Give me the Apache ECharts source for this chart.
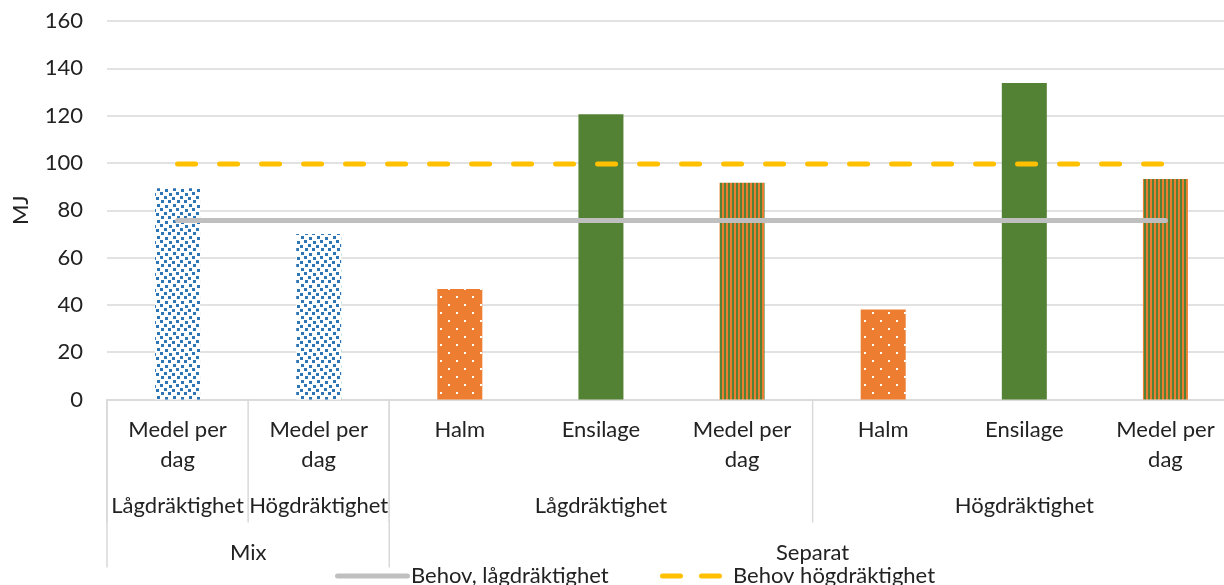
<!DOCTYPE html>
<html>
<head>
<meta charset="utf-8">
<script src="https://cdn.jsdelivr.net/npm/echarts@6/dist/echarts.min.js"></script>
<style>
  html, body { margin: 0; padding: 0; background: #fff; overflow: hidden; }
  /* the plot runs a little past the right edge of the page */
  #chart { width: 1236px; height: 585px; }
</style>
</head>
<body>
<div id="chart"></div>
<script>
// Feed energy per day (MJ), mixed ration vs. separate feeding
const categories = ['Medel per\ndag', 'Medel per\ndag', 'Halm', 'Ensilage', 'Medel per\ndag', 'Halm', 'Ensilage', 'Medel per\ndag'];
const stage   = ['Lågdräktighet', 'Högdräktighet', 'Lågdräktighet', 'Lågdräktighet', 'Lågdräktighet', 'Högdräktighet', 'Högdräktighet', 'Högdräktighet'];
const feeding = ['Mix', 'Mix', 'Separat', 'Separat', 'Separat', 'Separat', 'Separat', 'Separat'];
const energy  = [89.3, 70.0, 46.7, 120.6, 91.6, 38.0, 133.8, 93.2];
const needLow  = [75.7, 75.7, 75.7, 75.7, 75.7, 75.7, 75.7, 75.7];
const needHigh = [99.6, 99.6, 99.6, 99.6, 99.6, 99.6, 99.6, 99.6];
const yTicks = { min: 0, max: 160, step: 20 };

const FONT = 'Lato, "Noto Sans", sans-serif';
const FS = 22;
const TEXT = '#222';
const RULE = '#d9d9d9';

// --- fill patterns -------------------------------------------------------
function tile(w, h, paint) {
  const c = document.createElement('canvas');
  c.width = w; c.height = h;
  paint(c.getContext('2d'));
  return { image: c, repeat: 'repeat' };
}
const confetti = tile(16, 16, g => {
  g.fillStyle = '#fff'; g.fillRect(0, 0, 16, 16);
  g.fillStyle = '#2e75b6';
  [[0,0],[9,1],[4,4],[12,5],[1,8],[8,8],[5,13],[13,12]].forEach(([x, y]) => g.fillRect(x, y, 3, 3));
});
const dotted = tile(16, 16, g => {
  g.fillStyle = '#ed7d31'; g.fillRect(0, 0, 16, 16);
  g.fillStyle = '#fff';
  g.fillRect(0, 0, 2, 2); g.fillRect(8, 8, 2, 2);
});
const striped = tile(4, 4, g => {
  g.fillStyle = '#ed7d31'; g.fillRect(0, 0, 4, 4);
  g.fillStyle = '#548235'; g.fillRect(0, 0, 2, 4);
});
function fillFor(i) {
  if (feeding[i] === 'Mix') return confetti;
  if (categories[i] === 'Halm') return dotted;
  if (categories[i] === 'Ensilage') return '#548235';
  return striped;
}

// --- grouped axis spans (consecutive categories sharing a key) -----------
function spans(keyOf, labelOf, level) {
  const out = [], labels = [];
  let start = 0;
  for (let i = 1; i <= categories.length; i++) {
    if (i === categories.length || keyOf(i) !== keyOf(start)) {
      out.push([start, i - 1, level]);
      labels.push(labelOf(start));
      start = i;
    }
  }
  return { out, labels };
}
const lvl2 = spans(i => feeding[i] + '|' + stage[i], i => stage[i], 2);
const lvl3 = spans(i => feeding[i], i => feeding[i], 3);
const spanData = lvl2.out.concat(lvl3.out);
const spanLabels = lvl2.labels.concat(lvl3.labels);

function renderSpan(params, api) {
  const s = api.value(0), e = api.value(1), lvl = api.value(2);
  const bw = api.size([1, 0])[0];
  const p0 = api.coord([s, 0]);
  const p1 = api.coord([e, 0]);
  const left = p0[0] - bw / 2, right = p1[0] + bw / 2;
  const y0 = p0[1];
  const textY = lvl === 2 ? y0 + 106 : y0 + 153;
  const lineEnd = lvl === 2 ? y0 + 123 : y0 + 168;
  return {
    type: 'group',
    children: [
      { type: 'line', shape: { x1: left, y1: y0, x2: left, y2: lineEnd },
        style: { stroke: RULE, lineWidth: 1.5 } },
      { type: 'text', x: (left + right) / 2, y: textY,
        style: { text: spanLabels[params.dataIndex], align: 'center', verticalAlign: 'middle',
                 fontSize: FS, fontFamily: FONT, fill: TEXT } }
    ]
  };
}

const legendText = { fontSize: FS, fontFamily: FONT, color: TEXT };
const chart = echarts.init(document.getElementById('chart'), null, { renderer: 'canvas' });
chart.setOption({
  animation: false,
  grid: { left: 107, right: 0, top: 21, bottom: 185.5, containLabel: false },
  legend: [
    { data: ['Behov, lågdräktighet'], left: 330, top: 560, itemWidth: 75, itemHeight: 5,
      icon: 'path://M2.5,0H72.5A2.5,2.5,0,0,1,72.5,5H2.5A2.5,2.5,0,0,1,2.5,0Z',
      itemStyle: { borderWidth: 0 }, textStyle: Object.assign({ padding: [0, 0, 0, -4] }, legendText) },
    { data: ['Behov högdräktighet'], left: 655, top: 560, itemWidth: 62, itemHeight: 5,
      icon: 'path://M2.5,0H20.5A2.5,2.5,0,0,1,20.5,5H2.5A2.5,2.5,0,0,1,2.5,0Z M41.5,0H59.5A2.5,2.5,0,0,1,59.5,5H41.5A2.5,2.5,0,0,1,41.5,0Z',
      itemStyle: { borderWidth: 0 }, textStyle: Object.assign({ padding: [0, 0, 0, 6] }, legendText) }
  ],
  xAxis: {
    type: 'category',
    data: categories,
    axisLine: { lineStyle: { color: RULE, width: 1.5 } },
    axisTick: { show: false },
    axisLabel: { interval: 0, margin: 15, fontSize: FS, lineHeight: 30, fontFamily: FONT, color: TEXT }
  },
  yAxis: {
    type: 'value',
    min: yTicks.min, max: yTicks.max, interval: yTicks.step,
    name: 'MJ', nameLocation: 'middle', nameGap: 75, nameRotate: 90,
    nameTextStyle: { fontSize: FS, fontFamily: FONT, color: TEXT },
    axisLine: { show: false },
    axisTick: { show: false },
    axisLabel: { margin: 24, fontSize: FS, fontFamily: FONT, color: TEXT },
    splitLine: { lineStyle: { color: RULE, width: 1.5 } }
  },
  series: [
    {
      type: 'bar',
      name: 'Energi',
      barWidth: 45,
      data: energy.map((v, i) => ({ value: v, itemStyle: { color: fillFor(i) } })),
      z: 2
    },
    {
      type: 'line',
      name: 'Behov, lågdräktighet',
      data: needLow,
      symbol: 'none',
      lineStyle: { color: '#bfbfbf', width: 5, cap: 'round' },
      itemStyle: { color: '#bfbfbf' },
      z: 3
    },
    {
      type: 'line',
      name: 'Behov högdräktighet',
      data: needHigh,
      symbol: 'none',
      lineStyle: { color: '#ffc000', width: 5, type: [18, 24], cap: 'round' },
      itemStyle: { color: '#ffc000' },
      z: 3
    },
    {
      type: 'custom',
      name: 'grupper',
      renderItem: renderSpan,
      data: spanData,
      encode: { x: 0, y: 2 },
      silent: true,
      clip: false,
      z: 1
    }
  ]
});
</script>
</body>
</html>
